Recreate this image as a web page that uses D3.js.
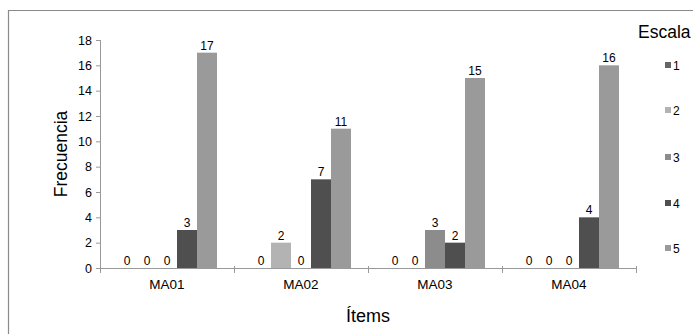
<!DOCTYPE html>
<html><head><meta charset="utf-8">
<script src="https://cdn.jsdelivr.net/npm/d3@7"></script>
<style>body{margin:0;background:#fff}svg{display:block;font-family:"Liberation Sans",Arial,sans-serif}</style>
</head><body>
<script>
const categories = ["MA01","MA02","MA03","MA04"];
const seriesNames = ["1","2","3","4","5"];
const s1 = [0,0,0,0];
const s2 = [0,2,0,0];
const s3 = [0,0,3,0];
const s4 = [3,7,2,4];
const s5 = [17,11,15,16];
const yTicks = [0,2,4,6,8,10,12,14,16,18];
const colors = ["#666666","#b3b3b3","#8c8c8c","#4f4f4f","#9a9a9a"];
const series = [s1,s2,s3,s4,s5];

const W=693,H=334;
const svg=d3.select("body").append("svg").attr("width",W).attr("height",H);
svg.append("path").attr("d",`M8.5,${H}V10.5H${W}`).attr("fill","none").attr("stroke","#8a8a8a").attr("stroke-width",1.2);

const L=100,R=636,T=40,B=268;
const x0=d3.scaleBand().domain(categories).range([L,R]).padding(0);
const x1=d3.scaleBand().domain(seriesNames).range([17,x0.bandwidth()-17]).padding(0);
const y=d3.scaleLinear().domain([0,18]).range([B,T]);

const ya=svg.append("g").attr("transform",`translate(${L},0)`).call(d3.axisLeft(y).tickValues(yTicks).tickSize(4).tickPadding(4));
ya.selectAll("path,line").attr("stroke","#999");
ya.select(".domain").attr("d",`M0.5,${T}V${B}`);
ya.selectAll("text").attr("font-size",12.5).attr("fill","#000").attr("font-family","Liberation Sans, Arial, sans-serif");

categories.forEach((c,i)=>{
  series.forEach((s,j)=>{
    const v=s[i];
    const bx=x0(c)+x1(seriesNames[j]);
    svg.append("rect").attr("x",bx).attr("y",y(v)).attr("width",x1.bandwidth()).attr("height",B-y(v)).attr("fill",colors[j]);
    svg.append("text").attr("x",bx+x1.bandwidth()/2).attr("y",y(v)-3).attr("text-anchor","middle").attr("font-size",12).attr("fill","#000").text(v);
  });
});

const xa=svg.append("g").attr("transform",`translate(0,${B})`);
xa.append("line").attr("x1",L).attr("x2",R).attr("y1",0.5).attr("y2",0.5).attr("stroke","#999");
const bounds=categories.map(c=>x0(c)).concat([R]);
xa.selectAll(".tk").data(bounds).enter().append("line").attr("x1",d=>d+0.5).attr("x2",d=>d+0.5).attr("y1",-2).attr("y2",5).attr("stroke","#999");
xa.selectAll(".cl").data(categories).enter().append("text").attr("x",d=>x0(d)+x0.bandwidth()/2).attr("y",21).attr("text-anchor","middle").attr("font-size",13.5).attr("fill","#000").text(d=>d);

svg.append("text").attr("transform",`translate(67,${(T+B)/2}) rotate(-90)`).attr("text-anchor","middle").attr("font-size",17.5).attr("fill","#000").text("Frecuencia");
svg.append("text").attr("x",(L+R)/2).attr("y",322).attr("text-anchor","middle").attr("font-size",18).attr("fill","#000").text("Ítems");

svg.append("text").attr("x",638).attr("y",38).attr("font-size",17.5).attr("fill","#000").text("Escala");
const ly=[65,110,157,203,248];
seriesNames.forEach((n,j)=>{
  svg.append("rect").attr("x",665).attr("y",ly[j]-3).attr("width",6).attr("height",6).attr("fill",colors[j]);
  svg.append("text").attr("x",673).attr("y",ly[j]+4.5).attr("font-size",12).attr("fill","#000").text(n);
});
</script>
</body></html>
